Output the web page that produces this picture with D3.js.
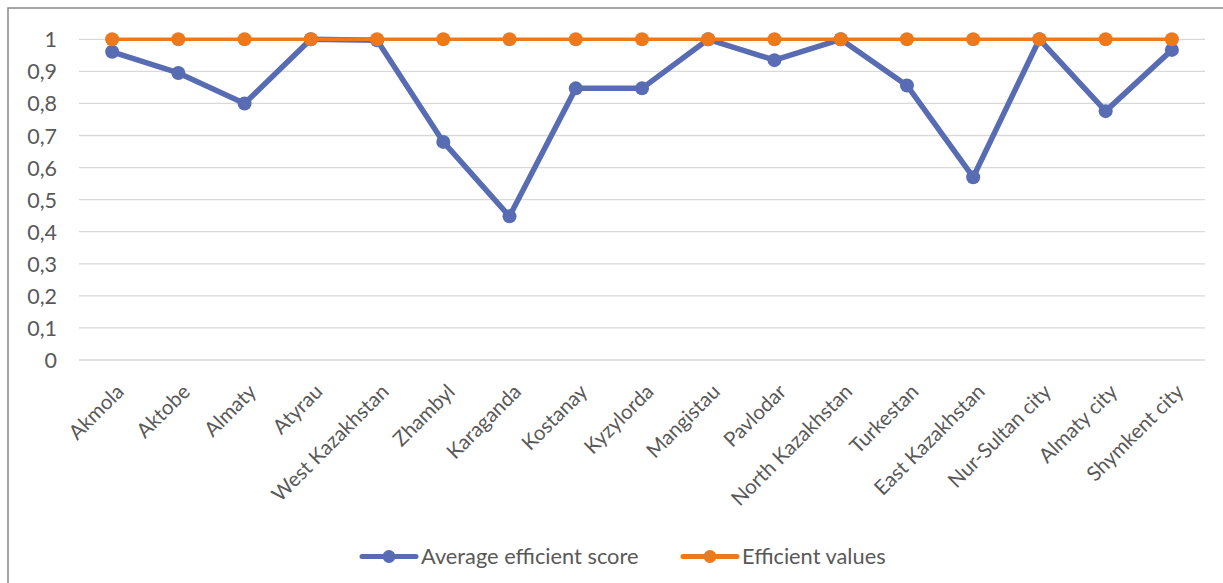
<!DOCTYPE html>
<html>
<head>
<meta charset="utf-8">
<script src="https://cdn.jsdelivr.net/npm/d3@7"></script>
<style>
  html, body { margin: 0; padding: 0; background: #fff; }
  svg { display: block; }
  text { font-family: Lato, "Open Sans", sans-serif; fill: #595959; }
</style>
</head>
<body>
<svg id="chart" width="1223" height="583"></svg>
<script>
const categories = ["Akmola","Aktobe","Almaty","Atyrau","West Kazakhstan","Zhambyl","Karaganda","Kostanay","Kyzylorda","Mangistau","Pavlodar","North Kazakhstan","Turkestan","East Kazakhstan","Nur-Sultan city","Almaty city","Shymkent city"];
const averageScore = [0.961,0.895,0.80,1.0,0.997,0.68,0.448,0.847,0.847,1.0,0.935,1.0,0.856,0.57,1.0,0.776,0.967];
const efficientValues = [1,1,1,1,1,1,1,1,1,1,1,1,1,1,1,1,1];
const seriesNames = ["Average efficient score","Efficient values"];
const yTicks = [0,0.1,0.2,0.3,0.4,0.5,0.6,0.7,0.8,0.9,1];
const yTickLabels = ["0","0,1","0,2","0,3","0,4","0,5","0,6","0,7","0,8","0,9","1"];

const colors = ["#586CB3", "#EC7A1C"];
const svg = d3.select("#chart");

// outer frame
svg.append("rect").attr("x", 8).attr("y", 8).attr("width", 1400).attr("height", 1000)
  .attr("fill", "none").attr("stroke", "#888").attr("stroke-width", 1.5);

const x = d3.scaleBand().domain(categories).range([79, 1205]);
const y = d3.scaleLinear().domain([0, 1]).range([360, 39.3]);

// gridlines
svg.append("g").selectAll("line").data(yTicks).join("line")
  .attr("x1", 79).attr("x2", 1205)
  .attr("y1", d => y(d)).attr("y2", d => y(d))
  .attr("stroke", "#d9d9d9").attr("stroke-width", 1.3);

// y axis labels
const yAxis = d3.axisLeft(y).tickValues(yTicks)
  .tickFormat((d, i) => yTickLabels[i]).tickSize(0).tickPadding(0);
const gy = svg.append("g").attr("transform", "translate(57,0)").call(yAxis);
gy.select(".domain").remove();
gy.selectAll("text").attr("font-size", 21.5).style("font-family", "Lato").attr("fill", "#595959").attr("dy", "0.35em");

// x axis labels
const xAxis = d3.axisBottom(x).tickSize(0).tickPadding(0);
const gx = svg.append("g").attr("transform", "translate(0,360)").call(xAxis);
gx.select(".domain").remove();
gx.selectAll("text")
  .attr("font-size", 20.5).style("font-family", "Lato").attr("fill", "#595959")
  .attr("text-anchor", "end").attr("y", 0).attr("dy", 0)
  .attr("transform", "translate(13,33) rotate(-45)");

const cx = d => x(d) + x.bandwidth() / 2;
const line = d3.line().x((d, i) => cx(categories[i])).y(d => y(d));

const series = [
  { name: seriesNames[0], values: averageScore, color: colors[0], width: 5.5 },
  { name: seriesNames[1], values: efficientValues, color: colors[1], width: 3.4 }
];

series.forEach(s => {
  const g = svg.append("g");
  g.append("path").datum(s.values).attr("d", line)
    .attr("fill", "none").attr("stroke", s.color).attr("stroke-width", s.width)
    .attr("stroke-linejoin", "round");
  g.selectAll("circle").data(s.values).join("circle")
    .attr("cx", (d, i) => cx(categories[i])).attr("cy", d => y(d))
    .attr("r", 7).attr("fill", s.color);
});

// legend
const legendItems = [
  { name: seriesNames[0], color: colors[0], x0: 362, w: 5 },
  { name: seriesNames[1], color: colors[1], x0: 683, w: 5 }
];
const lg = svg.append("g");
legendItems.forEach(it => {
  lg.append("line").attr("x1", it.x0).attr("x2", it.x0 + 54).attr("y1", 556.5).attr("y2", 556.5)
    .attr("stroke", it.color).attr("stroke-width", it.w).attr("stroke-linecap", "round");
  lg.append("circle").attr("cx", it.x0 + 27).attr("cy", 556.5).attr("r", 6.5).attr("fill", it.color);
  lg.append("text").attr("x", it.x0 + 59).attr("y", 556.5).attr("dy", "0.35em")
    .attr("font-size", 21.8).text(it.name);
});
</script>
</body>
</html>
